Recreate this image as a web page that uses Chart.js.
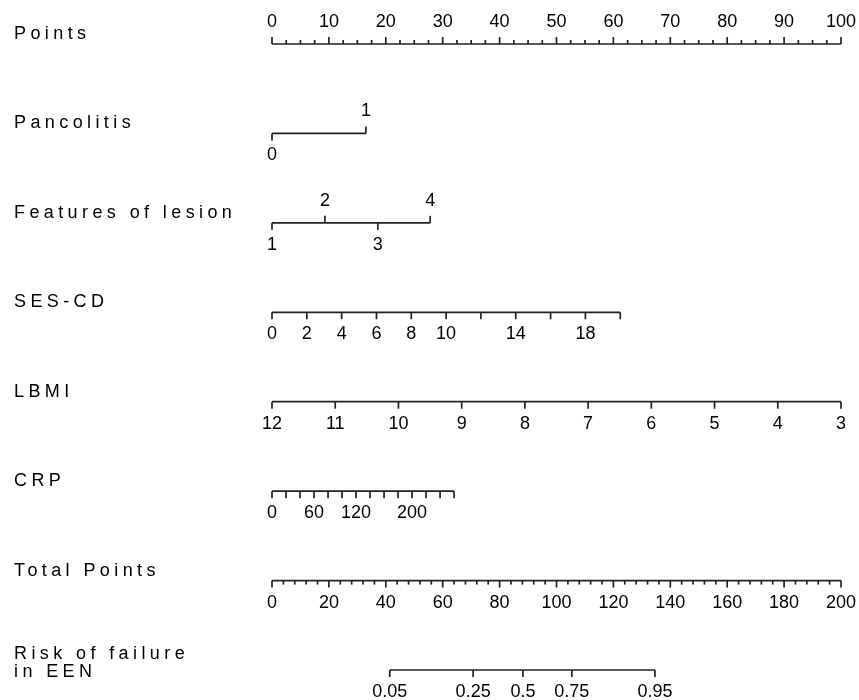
<!DOCTYPE html>
<html>
<head>
<meta charset="utf-8">
<script src="https://cdn.jsdelivr.net/npm/chart.js@4"></script>
<style>
  html, body { margin: 0; padding: 0; background: #fff; }
  #wrap { width: 859px; height: 700px; }
</style>
</head>
<body>
<div id="wrap"><canvas id="nomo"></canvas></div>
<script>
// row titles, top to bottom
var rowNames = ['Points', 'Pancolitis', 'Features of lesion', 'SES-CD', 'LBMI', 'CRP', 'Total Points', ['Risk of failure', 'in EEN']];

// Points (0-100)
var pointsLabels = [0, 10, 20, 30, 40, 50, 60, 70, 80, 90, 100];
var pointsStep = 2.5;

// Pancolitis: value -> points
var pancolitisValues = [0, 1];
var pancolitisPoints = [0, 16.5];

// Features of lesion: value -> points
var lesionValues = [1, 2, 3, 4];
var lesionPoints = [0, 9.3, 18.6, 27.8];

// SES-CD 0..20 -> 0..61.2 points
var sesTicks = [0, 2, 4, 6, 8, 10, 12, 14, 16, 18, 20];
var sesLabels = [0, 2, 4, 6, 8, 10, 14, 18];
var sesMaxPoints = 61.2;

// LBMI 12..3 -> 0..100 points
var lbmiTicks = [12, 11, 10, 9, 8, 7, 6, 5, 4, 3];

// CRP 0..260 -> 0..32 points
var crpTicks = [0, 20, 40, 60, 80, 100, 120, 140, 160, 180, 200, 220, 240, 260];
var crpLabels = [0, 60, 120, 200];
var crpMaxPoints = 32.0;

// Total points (0-200)
var totalLabels = [0, 20, 40, 60, 80, 100, 120, 140, 160, 180, 200];
var totalStep = 4;

// Risk of failure: probability -> total points
var riskValues = [0.05, 0.25, 0.5, 0.75, 0.95];
var riskTotal = [41.4, 70.7, 88.2, 105.4, 134.6];

var lineColor = '#222';
var numFont = '18px "Liberation Sans", Arial, sans-serif';
var nameFont = '18px "Liberation Sans", Arial, sans-serif';

function steps(max, step) {
  var out = [];
  for (var v = 0; v <= max + 1e-9; v += step) out.push(Math.round(v * 100) / 100);
  return out;
}

// build rows: each item = position on its axis, text, tick direction, major
var rows = [];
rows.push({ axis: 'x', items: steps(100, pointsStep).map(function (v) {
  var lab = pointsLabels.indexOf(v) >= 0;
  return { pos: v, text: lab ? String(v) : '', up: true, major: lab };
}) });
rows.push({ axis: 'x', items: pancolitisValues.map(function (v, i) {
  return { pos: pancolitisPoints[i], text: String(v), up: i % 2 === 1, major: true };
}) });
rows.push({ axis: 'x', items: lesionValues.map(function (v, i) {
  return { pos: lesionPoints[i], text: String(v), up: i % 2 === 1, major: true };
}) });
rows.push({ axis: 'x', items: sesTicks.map(function (v) {
  return { pos: v / 20 * sesMaxPoints, text: sesLabels.indexOf(v) >= 0 ? String(v) : '', up: false, major: true };
}) });
rows.push({ axis: 'x', items: lbmiTicks.map(function (v) {
  return { pos: (12 - v) / 9 * 100, text: String(v), up: false, major: true };
}) });
rows.push({ axis: 'x', items: crpTicks.map(function (v) {
  return { pos: v / 260 * crpMaxPoints, text: crpLabels.indexOf(v) >= 0 ? String(v) : '', up: false, major: true };
}) });
rows.push({ axis: 'xt', items: steps(200, totalStep).map(function (v) {
  var lab = totalLabels.indexOf(v) >= 0;
  return { pos: v, text: lab ? String(v) : '', up: false, major: lab };
}) });
rows.push({ axis: 'xt', items: riskValues.map(function (v, i) {
  return { pos: riskTotal[i], text: String(v), up: false, major: true };
}) });

// axis lines as datasets
var datasets = rows.map(function (row, r) {
  var first = row.items[0].pos, last = row.items[row.items.length - 1].pos;
  return {
    data: [{ x: first, y: r }, { x: last, y: r }],
    xAxisID: row.axis,
    borderColor: lineColor,
    borderWidth: 1.7,
    pointRadius: 0,
    clip: false
  };
});

var nomoPlugin = {
  id: 'nomo',
  afterDatasetsDraw: function (chart) {
    var ctx = chart.ctx, ys = chart.scales.y;
    ctx.save();
    ctx.strokeStyle = lineColor;
    ctx.lineWidth = 1.7;
    ctx.fillStyle = '#000';
    rows.forEach(function (row, r) {
      var xs = chart.scales[row.axis];
      var py = ys.getPixelForValue(r);
      row.items.forEach(function (it) {
        var px = xs.getPixelForValue(it.pos);
        var dir = it.up ? -1 : 1;
        var len = it.major ? 7 : 4;
        ctx.beginPath();
        ctx.moveTo(px, py);
        ctx.lineTo(px, py + dir * len);
        ctx.stroke();
        if (it.text !== '') {
          ctx.font = numFont;
          ctx.letterSpacing = '0px';
          ctx.textAlign = 'center';
          ctx.textBaseline = 'middle';
          ctx.fillText(it.text, px, py + dir * 22);
        }
      });
      // row title on the left
      var name = rowNames[r];
      var lines = Array.isArray(name) ? name : [name];
      ctx.font = nameFont;
      ctx.letterSpacing = '4.4px';
      ctx.textAlign = 'left';
      ctx.textBaseline = 'middle';
      var off = lines.length === 1 ? -10 : -16;
      lines.forEach(function (t, k) {
        ctx.fillText(t, chart.chartArea.left - 258, py + off + k * 18);
      });
    });
    ctx.restore();
  }
};

new Chart(document.getElementById('nomo'), {
  type: 'line',
  data: { datasets: datasets },
  options: {
    responsive: true,
    maintainAspectRatio: false,
    animation: false,
    layout: { padding: { left: 272, right: 18, top: 44, bottom: 30 } },
    plugins: { legend: { display: false }, tooltip: { enabled: false } },
    scales: {
      x: { type: 'linear', min: 0, max: 100, display: false },
      xt: { type: 'linear', min: 0, max: 200, display: false },
      y: { type: 'linear', min: 0, max: 7, reverse: true, display: false }
    }
  },
  plugins: [nomoPlugin]
});
</script>
</body>
</html>
